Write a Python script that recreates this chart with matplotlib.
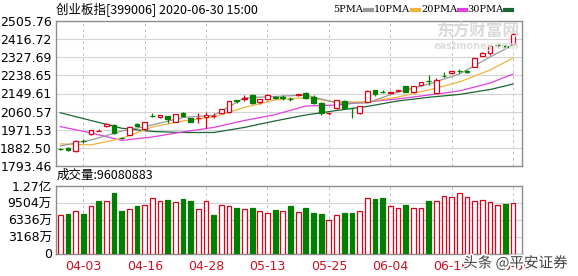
import numpy as np
import matplotlib
matplotlib.use('Agg')
import matplotlib.pyplot as plt
import matplotlib.patheffects as pe

# fonts: latin first, CJK as fallback
plt.rcParams['font.family'] = ['DejaVu Sans', 'Noto Sans CJK SC']

# ---------------- data ----------------
title = '创业板指[399006] 2020-06-30 15:00'

open_ = [1878, 1880, 1866, 1917, 1950, 1966, 1988, 1995, 1931, 1947,
         2000, 1975, 2040, 2034, 2038, 2011, 2055, 2028, 2028, 2036,
         2038, 2052, 2057, 2116, 2125, 2142, 2108, 2124, 2133, 2131,
         2124, 2141, 2153, 2134, 2105, 2054, 2077, 2115, 2078, 2053,
         2109, 2166, 2159, 2154, 2160, 2186, 2158, 2191, 2213, 2154,
         2238, 2249, 2261, 2258, 2281, 2334, 2347, 2389, 2382, 2393]
close = [1877, 1872, 1918, 1914, 1969, 1967, 1999, 1958, 1929, 1986,
         1992, 2010, 2037, 2043, 2024, 2047, 2039, 2011, 2031, 2043,
         2041, 2073, 2112, 2112, 2127, 2101, 2122, 2142, 2129, 2129,
         2121, 2145, 2129, 2101, 2052, 2055, 2118, 2080, 2076, 2088,
         2163, 2146, 2157, 2156, 2165, 2158, 2186, 2204, 2209, 2216,
         2234, 2258, 2259, 2256, 2322, 2347, 2383, 2387, 2380, 2442]
high = [1884, 1885, 1922, 1925, 1971, 1975, 2004, 1998, 1937, 1990,
        2004, 2012, 2052, 2045, 2040, 2049, 2058, 2031, 2052, 2060,
        2053, 2075, 2114, 2118, 2140, 2145, 2124, 2146, 2135, 2140,
        2133, 2146, 2156, 2140, 2108, 2056, 2120, 2120, 2080, 2090,
        2165, 2168, 2166, 2163, 2167, 2188, 2188, 2206, 2240, 2225,
        2257, 2260, 2270, 2266, 2324, 2355, 2386, 2396, 2390, 2446]
low = [1871, 1868, 1862, 1906, 1948, 1965, 1985, 1950, 1924, 1944,
       1990, 1972, 2036, 2031, 2006, 2008, 2036, 2008, 2006, 1979,
       2030, 2050, 2055, 2104, 2112, 2097, 2096, 2118, 2125, 2120,
       2112, 2135, 2125, 2096, 2043, 2046, 2075, 2077, 2027, 2050,
       2106, 2135, 2150, 2150, 2158, 2155, 2155, 2188, 2190, 2150,
       2232, 2245, 2252, 2249, 2278, 2332, 2340, 2380, 2372, 2390]

# volume in 万, and whether the volume bar is red (up)
volume = [7190, 7500, 8060, 7500, 8980, 9900, 9900, 11430, 7930, 8420,
          8850, 9160, 10510, 9770, 10080, 9590, 10200, 9770, 8420, 9770,
          7320, 9160, 8850, 8540, 8360, 8540, 8060, 7620, 8240, 8060,
          8980, 7740, 8540, 7620, 7440, 6210, 7190, 7620, 7620, 7930,
          10510, 10200, 10380, 8850, 8540, 9040, 8540, 8540, 9770, 9770,
          10880, 10700, 11430, 10700, 9770, 10080, 9650, 9040, 9280, 9460]
vol_up = [1, 0, 1, 0, 1, 0, 1, 0, 0, 1,
          0, 1, 1, 1, 0, 1, 0, 0, 1, 1,
          0, 1, 1, 0, 1, 0, 1, 1, 0, 1,
          0, 1, 0, 0, 0, 1, 1, 0, 0, 1,
          1, 0, 0, 1, 1, 0, 1, 1, 0, 1,
          1, 1, 1, 1, 1, 1, 1, 1, 0, 1]

# moving averages read at a few bar positions
ma_idx = [0, 4, 8, 12, 16, 20, 24, 28, 32, 36, 40, 44, 48, 52, 56, 59]
ma5 = [1892, 1921, 1965, 1995, 2032, 2042, 2128, 2135, 2142, 2103,
       2103, 2157, 2196, 2245, 2329, 2388]
ma10 = [1902, 1897, 1929, 1985, 2015, 2034, 2081, 2118, 2130, 2108,
        2108, 2132, 2167, 2206, 2265, 2324]
ma20 = [1987, 1956, 1919, 1936, 1961, 1983, 2017, 2046, 2088, 2093,
        2108, 2123, 2142, 2162, 2201, 2245]
ma30 = [2055, 2017, 1979, 1963, 1958, 1958, 1983, 2015, 2044, 2066,
        2086, 2113, 2131, 2145, 2169, 2196]
ma_names = ['5PMA', '10PMA', '20PMA', '30PMA']

price_ticks = [1793.46, 1882.50, 1971.53, 2060.57, 2149.61,
               2238.65, 2327.69, 2416.72, 2505.76]
vol_ticks = [0, 3168, 6336, 9504, 12672]
vol_tick_labels = ['0', '3168万', '6336万', '9504万', '1.27亿']
date_idx = [3, 11, 19, 27, 35, 43, 51, 59]
date_labels = ['04-03', '04-16', '04-28', '05-13', '05-25', '06-04', '06-16', '06-30']
last_volume = '96080883'

# colours
RED = '#e0001a'
GREEN = '#007f00'
MA_COLORS = ['#999999', '#f0b43c', '#e040e0', '#1a6633']
FRAME = '#8c8c8c'

# ---------------- figure ----------------
fig = plt.figure(figsize=(5.78, 2.76), dpi=100)
ax = fig.add_axes([56/578, 1 - 166/276, 466/578, 145/276])
axv = fig.add_axes([56/578, 1 - 253.5/276, 466/578, 67.5/276])

x = np.arange(len(close))
o = np.array(open_, float)
c = np.array(close, float)
up = c >= o

# wicks
ax.vlines(x, low, high, colors=np.where(up, RED, GREEN), linewidth=0.9, zorder=3)
# bodies
body = np.maximum(np.abs(c - o), 0.5)
bottom = np.minimum(o, c)
ax.bar(x[up], body[up], bottom=bottom[up], width=0.62, facecolor='white',
       edgecolor=RED, linewidth=0.9, zorder=4)
ax.bar(x[~up], body[~up], bottom=bottom[~up], width=0.62, facecolor=GREEN,
       edgecolor=GREEN, linewidth=0.9, zorder=4)

# moving averages
for vals, col in zip([ma30, ma20, ma10, ma5], MA_COLORS[::-1]):
    ax.plot(ma_idx, vals, color=col, linewidth=0.9, zorder=2)

# volume bars
vu = np.array(vol_up, bool)
v = np.array(volume, float)
axv.bar(x[vu], v[vu], width=0.62, facecolor='white', edgecolor=RED, linewidth=0.9, zorder=3)
axv.bar(x[~vu], v[~vu], width=0.62, facecolor=GREEN, edgecolor=GREEN, linewidth=0.9, zorder=3)

# axes styling
for a in (ax, axv):
    a.set_xlim(-0.56, 60.17)
    for s in a.spines.values():
        s.set_color(FRAME)
        s.set_linewidth(1.0)
    a.tick_params(length=0, labelsize=9, pad=3)
    for xi in date_idx:
        a.axvline(xi, color='#c0c0c0', linestyle=(0, (3, 3)), linewidth=0.7, zorder=1)

ax.set_ylim(price_ticks[0], price_ticks[-1])
ax.set_yticks(price_ticks)
ax.set_yticklabels(['%.2f' % t for t in price_ticks])
ax.set_xticks([])
ax.grid(axis='y', color='#d4d4d4', linewidth=0.8, zorder=0)

axv.set_ylim(0, vol_ticks[-1])
axv.set_yticks(vol_ticks)
axv.set_yticklabels(vol_tick_labels)
axv.grid(axis='y', color='#d4d4d4', linewidth=0.8, zorder=0)
axv.set_xticks(date_idx)
axv.set_xticklabels(date_labels, color='#cc1122', fontsize=9)
axv.tick_params(axis='x', pad=5)

# texts
fig.text(56/578, 1 - 10/276, title, fontsize=9, va='center', ha='left',
         family=['Noto Sans CJK SC', 'DejaVu Sans'])
fig.text(57/578, 1 - 175/276, '成交量:' + last_volume, fontsize=9, va='center',
         ha='left', family=['Noto Sans CJK SC', 'DejaVu Sans'])

# legend on top right: name then a short coloured dash
dash_x = [365, 412, 459, 505]
for dx, name, col in zip(dash_x, ma_names, MA_COLORS):
    fig.text((dx - 2)/578, 1 - 10/276, name, fontsize=7, va='center', ha='right',
             family='DejaVu Serif')
    fig.add_artist(plt.Line2D([dx/578, (dx + 7)/578], [1 - 10/276] * 2,
                              color=col, linewidth=3, transform=fig.transFigure))

# watermarks
fig.text(478/578, 1 - 32/276, '东方财富网', fontsize=12, color='#dadada',
         ha='center', va='center', family=['Noto Sans CJK SC'], fontweight='bold')
fig.text(476/578, 1 - 46/276, 'eastmoney.com', fontsize=7, color='#dedede',
         ha='center', va='center', fontweight='bold')
fig.text(568/578, 1 - 263/276, '头条 @平安证券', fontsize=10.5, color='#444444',
         ha='right', va='center', family=['Noto Sans CJK SC', 'DejaVu Sans'],
         path_effects=[pe.withStroke(linewidth=2.5, foreground='white')])

fig.savefig('out.png', dpi=100)
